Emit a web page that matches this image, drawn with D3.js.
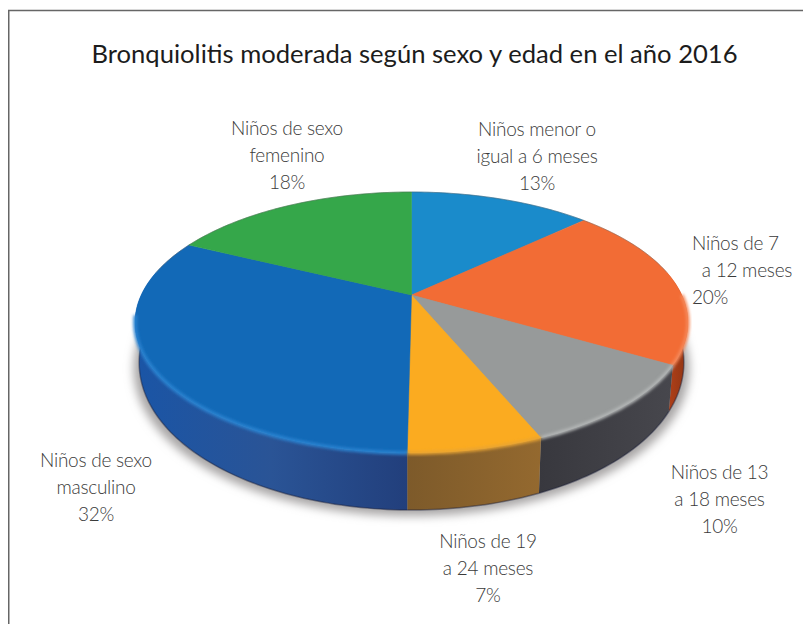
<!DOCTYPE html>
<html>
<head>
<meta charset="utf-8">
<script src="https://cdnjs.cloudflare.com/ajax/libs/d3/7.8.5/d3.min.js"></script>
<style>
html, body { margin: 0; padding: 0; background: #fff; }
svg { display: block; }
text { font-family: Lato, sans-serif; }
</style>
</head>
<body>
<svg width="803" height="624"></svg>
<script>
// data (slices are a bit off the rounded labels in the original)
var categories = ["Niños menor o igual a 6 meses", "Niños de 7 a 12 meses", "Niños de 13 a 18 meses",
    "Niños de 19 a 24 meses", "Niños de sexo masculino", "Niños de sexo femenino"];
var values = [13, 20.4, 10.3, 6.5, 32, 17.8];
var labelLines = [["Niños menor o", "igual a 6 meses"], ["Niños de 7", "  a 12 meses"], ["Niños de 13", "a 18 meses"],
    ["Niños de 19", "a 24 meses"], ["Niños de sexo", "masculino"], ["Niños de sexo", "femenino"]];
var topColors = ["#1a8bcb", "#f26c35", "#979a9a", "#fbab20", "#1269b7", "#35a74a"];
var wallColors = [["#0f5c88", "#0f5c88"], ["#b8431a", "#8f3413"], ["#38383e", "#47474d"],
    ["#7d5a2a", "#94692f"], ["#1a55a6", "#2a5496", "#223f7c"], ["#226b30", "#226b30"]];
var rimColors = ["#3aa0dc", "#f58a5c", "#b5b8b8", "#e9a432", "#2b84d2", "#50bb64"];
var labelPos = [[537, 135.5], [692, 250], [719.5, 479], [488, 548], [96, 467], [287, 135]];
var labelAnchor = ["middle", "start", "middle", "middle", "middle", "middle"];
var title = "Bronquiolitis moderada según sexo y edad en el año 2016";

var svg = d3.select("svg");
var defs = svg.append("defs");
defs.append("filter").attr("id", "soft").attr("x", "-20%").attr("y", "-20%").attr("width", "140%").attr("height", "140%")
    .append("feGaussianBlur").attr("stdDeviation", 1.6);
defs.append("filter").attr("id", "shadow").attr("x", "-10%").attr("y", "-10%").attr("width", "120%").attr("height", "120%")
    .append("feGaussianBlur").attr("stdDeviation", 5);

// frame: only the left and top edges are in the picture
svg.append("path").attr("d", "M8.75,624V10.5H803")
    .attr("fill", "none").attr("stroke", "#666").attr("stroke-width", 1.5);

svg.append("text").attr("x", 414.5).attr("y", 62.5).attr("text-anchor", "middle")
    .attr("font-size", 25.6).attr("font-weight", 400).attr("fill", "#1c1c1c").text(title);

// tilted disc: apex sits above the middle of the ellipse, as in a perspective view
var apexX = 411.5, apexY = 295, sx = 270.3, sy = 124.7, k = 0.2108, depth = 57;
function rimTop(a) {
    var u = Math.sin(a), v = -Math.cos(a), w = 1 - k * v;
    return [apexX + sx * u / w, apexY + sy * v / w];
}
function rimBottom(a) {
    var p = rimTop(a), v = -Math.cos(a);
    return [apexX + (p[0] - apexX) * 0.985, p[1] + depth * (0.62 + 0.38 * v)];
}
function samples(a0, a1) {
    var n = Math.max(2, Math.ceil((a1 - a0) / 0.02));
    return d3.range(n + 1).map(function (i) { return a0 + (a1 - a0) * i / n; });
}

var pie = d3.pie().sort(null).value(function (d) { return d; });
var arcs = pie(values);
var line = d3.line();

// ground shadow
var visStart = Math.PI * 0.44, visEnd = Math.PI * 1.56;
svg.append("path")
    .attr("d", line(samples(0, 2 * Math.PI).map(function (a) {
        var p = rimBottom(a);
        return [p[0] + (p[0] - apexX) * 0.02, p[1] + 6];
    })) + "Z")
    .attr("fill", "#a8a6a6").attr("filter", "url(#shadow)");

// walls, with a gradient running left to right
arcs.forEach(function (d, i) {
    var a0 = Math.max(d.startAngle, visStart), a1 = Math.min(d.endAngle, visEnd);
    if (a1 <= a0) return;
    var ang = samples(a0, a1);
    var pts = ang.map(rimTop).concat(ang.slice().reverse().map(rimBottom));
    var xr = d3.extent(pts, function (p) { return p[0]; });
    var grad = defs.append("linearGradient").attr("id", "wall" + i).attr("gradientUnits", "userSpaceOnUse")
        .attr("x1", xr[0]).attr("x2", xr[1]).attr("y1", 0).attr("y2", 0);
    wallColors[i].forEach(function (c, j) {
        grad.append("stop").attr("offset", j / (wallColors[i].length - 1)).attr("stop-color", c);
    });
    svg.append("path")
        .attr("d", line(pts) + "Z")
        .attr("fill", "url(#wall" + i + ")");
    // darker lower edge
    svg.append("path")
        .attr("d", line(ang.map(rimBottom)))
        .attr("fill", "none").attr("stroke", "#1a1f3a").attr("stroke-opacity", 0.45).attr("stroke-width", 1.5);
});

// top faces
arcs.forEach(function (d, i) {
    var ang = samples(d.startAngle, d.endAngle);
    svg.append("path")
        .attr("d", line([[apexX, apexY]].concat(ang.map(rimTop))) + "Z")
        .attr("fill", topColors[i]).attr("stroke", topColors[i]).attr("stroke-width", 0.5);
});

// thin dark edge on the far side of the disc
svg.append("path")
    .attr("d", line(samples(visEnd, visStart + 2 * Math.PI).map(rimTop)))
    .attr("fill", "none").attr("stroke", "#555").attr("stroke-opacity", 0.5).attr("stroke-width", 0.8);

// soft bevel along the front rim
arcs.forEach(function (d, i) {
    var a0 = Math.max(d.startAngle, Math.PI * 0.5), a1 = Math.min(d.endAngle, Math.PI * 1.45);
    if (a1 <= a0) return;
    svg.append("path")
        .attr("d", line(samples(a0, a1).map(rimTop)))
        .attr("fill", "none").attr("stroke", rimColors[i]).attr("stroke-width", 3.5)
        .attr("filter", "url(#soft)");
});

// labels
var labels = svg.append("g").attr("font-size", 19).attr("font-weight", 300).attr("fill", "#3a3a3a")
    .attr("letter-spacing", -0.25);
arcs.forEach(function (d, i) {
    var t = labels.append("text").attr("x", labelPos[i][0]).attr("y", labelPos[i][1])
        .attr("text-anchor", labelAnchor[i]).attr("xml:space", "preserve");
    labelLines[i].concat([d3.format(".0f")(d.value) + "%"]).forEach(function (s, j) {
        t.append("tspan").attr("x", labelPos[i][0]).attr("dy", j ? 27 : 0).text(s);
    });
});
</script>
</body>
</html>
